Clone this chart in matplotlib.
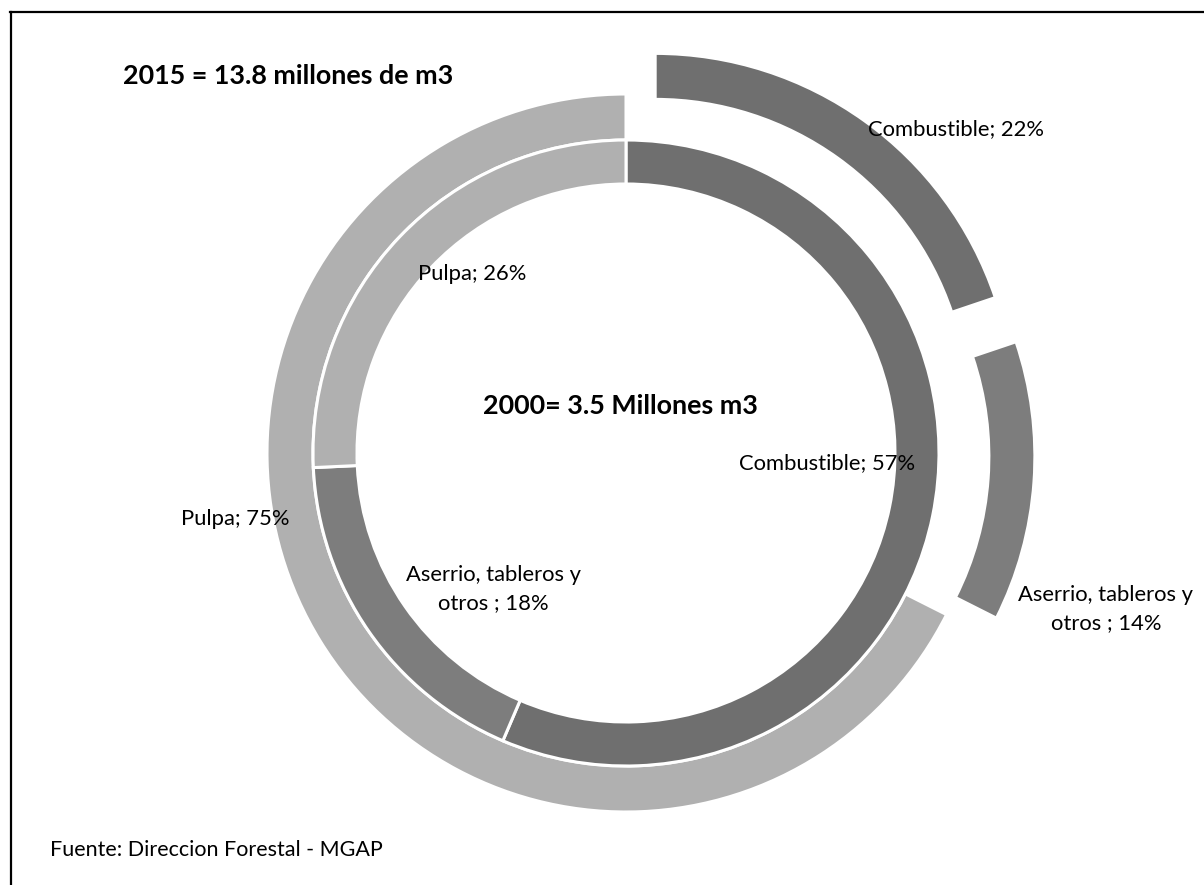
import matplotlib
matplotlib.use('Agg')
import matplotlib.pyplot as plt

W, H = 1204, 885

# destino de la madera extraida, % por año
categorias = ['Combustible', 'Aserrio, tableros y\notros ', 'Pulpa']
valores_2015 = [22, 14, 75]
valores_2000 = [57, 18, 26]

titulo_2015 = '2015 = 13.8 millones de m3'
titulo_2000 = '2000= 3.5 Millones m3'
fuente = 'Fuente: Direccion Forestal - MGAP'

colores = ['#6f6f6f', '#7d7d7d', '#b0b0b0']

# posiciones de las etiquetas en pixeles (x, y desde arriba)
pos_2015 = [(956, 129), (1106, 609), (235, 519)]
pos_2000 = [(827, 463), (493, 589), (472, 274)]

plt.rcParams['font.family'] = ['Lato', 'DejaVu Sans']

fig = plt.figure(figsize=(W / 100, H / 100), dpi=100)
ax = fig.add_axes([0, 0, 1, 1])

cx, cy = 626, H - 453
r_ext, ancho_ext = 359, 46
r_int, ancho_int = 313, 44
separacion = 50   # desplazamiento de las porciones separadas del anillo externo

borde = dict(edgecolor='white', linewidth=2.2)
ax.pie(valores_2015, radius=r_ext, center=(cx, cy), startangle=90,
       counterclock=False, colors=colores,
       explode=[separacion, separacion, 0],
       wedgeprops=dict(width=ancho_ext, **borde))
ax.pie(valores_2000, radius=r_int, center=(cx, cy), startangle=90,
       counterclock=False, colors=colores,
       wedgeprops=dict(width=ancho_int, **borde))

ax.set_xlim(0, W)
ax.set_ylim(0, H)
ax.set_aspect('equal')
ax.axis('off')

# etiquetas "categoria; valor%"
for cat, val, (x, y) in zip(categorias, valores_2015, pos_2015):
    ax.text(x, H - y, f'{cat}; {val}%', ha='center', va='center',
            fontsize=15.8, color='black', linespacing=1.5)
for cat, val, (x, y) in zip(categorias, valores_2000, pos_2000):
    ax.text(x, H - y, f'{cat}; {val}%', ha='center', va='center',
            fontsize=15.8, color='black', linespacing=1.5)

ax.text(123, H - 76, titulo_2015, ha='left', va='center',
        fontsize=19.4, fontweight='bold')
ax.text(620, H - 406, titulo_2000, ha='center', va='center',
        fontsize=19.4, fontweight='bold')
ax.text(50, H - 850, fuente, ha='left', va='center', fontsize=15.5)

# marco
ax.plot([10, W], [H - 12, H - 12], color='black', lw=1.6, clip_on=False)
ax.plot([11, 11], [H - 12, 0], color='black', lw=1.6, clip_on=False)

fig.savefig('out.png', dpi=100)
